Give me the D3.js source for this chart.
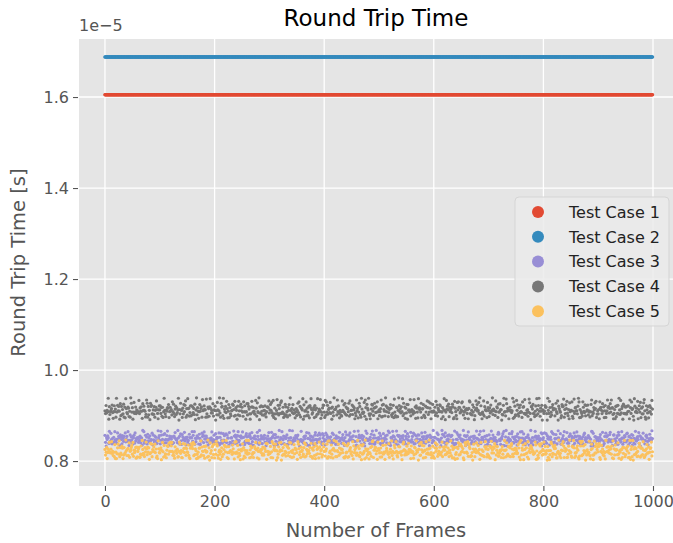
<!DOCTYPE html>
<html><head><meta charset="utf-8">
<script src="https://cdn.jsdelivr.net/npm/d3@7"></script>
<style>body{margin:0;background:#fff}svg{display:block}text{font-family:"DejaVu Sans",sans-serif}</style>
</head><body><svg id="c" width="673" height="543"></svg>
<script>
// Data (values in units of 1e-5 s)
const seriesNames = ["Test Case 1","Test Case 2","Test Case 3","Test Case 4","Test Case 5"];
const seriesColors = ["#E24A33","#348ABD","#988ED5","#777777","#FBC15E"];
const nFrames = 1000;
const constantLevels = [1.605, 1.688];            // Test Case 1, 2
const noiseCenter = [0.847, 0.910, 0.820];          // Test Case 3, 4, 5
const noiseSpread = [0.0105, 0.015, 0.0135];
// band positions for the coarse digit codes 0-9 (in units of spread)
const levelTable = [-1.645,-1.036,-0.674,-0.385,-0.126,0.126,0.385,0.674,1.036,1.645];
const fineStep = 0.065;
// per-frame readings: coarse digit + fine digit per frame
const tc3Digits = [
"7316485292 4851627394 3629475186 5187364925 6493158274","2758193646 5364827519 4915736284 6283549175 3846215967",
"5197463828 3628954176 6471328595 4539617284 2865493714","6342875159 4719263586 5286143977 3957482614 4163795248",
"3584726191 6295138474 4837561922 5614298376 2479356185","5926314787 3471865293 6158742396 4293587165 5736124849",
"4263957181 5847216394 3519648275 6782135946 2195376485","6874213595 4326758191 5691483726 3148962574 4957231868",
"3419586272 5763194826 4285617393 6527843159 2831475964","5648392171 3195846727 6472139585 4361758292 5813694247",
"4927165383 6584372919 3156498274 5293716845 2746851396","6185743292 4639281575 5827164396 3472915868 4318567249",
"3756219484 5241698373 6913475285 4687352191 2594836175","5362948717 3819574262 4175832696 6248391575 4936157824",
"2841695376 6573214898 5326478191 3794156285 5189632474","4618372595 3952864171 6487135923 5134798266 2763549185",
"6293481757 4176593828 3548216974 5821467393 4659132788","3475169286 5938247161 4261895735 6387524199 2814673565",
"5726834191 3164957823 6895241378 4513682974 5249716386","4389516722 6817435294 3574928165 5692314787 2136857496"];
const tc3Fine = [
"8205719364 1947382056 6031859247 3720596184 9158204736","0483916275 7264051839 2590847163 5817360492 4036291857",
"1769402538 9052718364 3847150926 6219485073 0572936148","7340618295 2895034716 8163527049 1456908237 5928041673",
"3087265914 6401938572 0719843265 8542170396 2675309418","9416052783 1358796024 4270685139 7093421865 5834167092",
"0628394751 8512047396 3975160248 2140678935 6781503429","4195807362 0847561923 7302918456 9563204187 1069735842",
"5740136928 3286904571 9018452637 0731568294 8425093176","2851769043 6079325418 1543087692 4908216375 7362490851",
"9037524186 4618093752 0295761834 3176849205 8504217369","1582406937 7930158264 5469203718 2847395061 0613872549",
"6294031857 0751496382 8132675940 5908123476 3427508196","3708952614 9264307185 2856019473 1075468329 7849136205",
"8461370592 5019842637 4703958261 6392015784 0185724936","0937615248 2586703419 7140382956 9473260815 4628591073",
"5214089763 8307251946 3695174802 0816437259 6052983417","7659241308 1470695832 9286503147 4321978065 2903846751",
"4086597132 6893014275 0531862794 8164520397 1795063428","2370148659 3528907164 6947231085 5209874631 9471630582"];
const tc4Digits = [
"5283649172 4658315736 2947564183 6354827195 3476152984","6148357264 5392746518 4765139826 3518674253 7246953148",
"4837261595 3164758246 5629384157 2745916384 6153847925","3956148273 6472815936 4138576294 5864293175 2697354816",
"5714386259 4287639154 6395148273 3548761926 4172953684","6329574138 2865413796 5743296185 4916385274 3582147669",
"4675832914 5136947258 3894561327 6241758396 5738264145","2584936175 6917245836 4361879524 5728416393 3649152787",
"5193847266 3846175295 6572938414 4219657383 7365481926","4826571339 5714863295 3458296176 6932145784 2587364915",
"6345918275 4298576136 5863147294 3176259845 4659382716","3718465924 6524937185 4197653826 5831274696 2946815375",
"5462938174 3785146259 6139574826 4573861295 5218496734","4895273165 6351798424 2746135958 5684927314 3917564286",
"6173845926 4529367185 5864132794 3298576146 4635918273","2957416385 5186749234 4625983176 6743158295 3894265714",
"5348672195 3971526846 6258349175 4513876926 2769435184","4682159376 5437982615 3196547284 6825314793 5374869125",
"3519764285 6248135976 4783956214 5162847395 2935618474","6427385196 4856219735 5391674826 3648952174 4715836295"];
const tc4Fine = [
"3916058247 5082741693 1847396250 9260413578 7035821964","6248503917 0739168245 8502734619 2416970853 4187265390",
"9052376184 4816293057 3260941875 7135802469 0694357218","1785930462 8307415926 6493208157 5029164738 3870642591",
"4507281639 2163908475 9718563024 0384729156 8256130947","7830164295 6597024318 0264835971 3918502647 1409753862",
"2194875360 9340517682 5821076439 8657243190 6073912548","5463029718 1728364905 4095127683 6201985374 9385406127",
"0631947825 7815230496 2736490158 4592018763 3148569270","8279513604 3054692187 7108346295 1845307926 5962784031",
"1058472396 6490135872 9352817064 0736249158 2817069345","6923810547 2186573409 4571298603 8319054726 7045632891",
"3475162908 9801346257 0183759426 5627483019 1538907264","9702638415 4563029178 6847105293 2081976534 3294517086",
"0816254973 7352981640 1529036784 9465201387 6073849152","5348096721 0697415832 8230675149 3914820576 4186352709",
"2561739084 5128067394 3476912058 7050349612 9841206375","8093426517 3745890261 5907238416 1263875940 0529741683",
"4630178952 8071653429 2058496731 6392017485 7368924150","7185902346 1964307582 9713264805 4807531269 2450196837"];
const tc5Digits = [
"6258137494 3794625181 5136849275 4861273596 2573914688","4925368171 5682147396 3417596285 6139482757 5846231973",
"3761594282 4215873969 6894352174 5372169845 2159748636","5483216797 6938475121 4267193856 3715846292 6194527838",
"2649873155 3156294787 5972418365 4628751939 5381642174","6817352496 4593168272 3248695717 5194736283 2765918445",
"4372591868 5861423795 6915372484 3487265919 5236184767","3198645275 6247918353 4563829171 5829137646 2974561388",
"5634781929 3518462796 6192548375 4756391282 3481926574","4291857363 5973624818 3846197252 6315482799 2658734196",
"6527319844 4186753291 5739261486 3962148575 4215897363","2843965717 6351287495 4617832958 5284619373 3796451282",
"5169478236 3724591867 6283947515 4938256171 2571693848","4756213989 5492876133 3168527494 6835149262 5327968145",
"3281694575 6917358422 4542783169 5169247836 2896415737","6435872919 3758126946 5291463877 4623598151 3184759626",
"2967345181 5146982373 6873215494 3415869727 4762138595","5318796242 4685213979 3927648153 6254931786 2139574868",
"4792158363 6231947585 5486372917 3857629414 4615283792","3674825191 5829163746 4153798262 6496215378 5381476924"];
const tc5Fine = [
"5720491836 8153062974 2469817350 0384756192 6931278405","1347920568 4602719385 7095346812 9261583047 3856104729",
"8091637254 2967485103 0438216579 5712904836 1640358927","3562148709 7318026495 6284973150 1857360294 9023617548",
"0416892537 5249371068 3871542906 8096213475 2758436109","6935071482 1087643259 9152738064 4328095716 7564129803",
"2781356940 6830915724 4306259178 0547681392 5193872460","9258703164 3415287096 8627041935 7160439528 0472658391",
"4109285637 9576140382 1953678240 3285917064 8647031952","7653410892 0892735614 5740392168 6931204857 1380569247",
"3024987516 4261358907 2187603459 9506842173 6715940328","8376152049 1935804276 6401927385 2049375618 5298016734",
"0592837461 7680249135 3825164097 4713098652 9164723508","6847019253 2354867910 9068431527 1589203746 4037562819",
"1235964870 8019372546 4791025638 6842517309 3506198274","5960742318 3476185029 0253879461 7198046253 2684930175",
"9418536027 6102493785 7534061892 0367825914 8241753690","2073689145 5847130692 1689247053 4925613087 7136084952",
"7801245963 0593876421 8316590742 3670482159 6429107583","4659310782 9238064517 5940713286 8053196427 0812639457"];
const xTicks = [0,200,400,600,800,1000];
const yTicks = [0.8,1.0,1.2,1.4,1.6];

function digitsOf(rows){ return rows.join("").replace(/\s/g,"").split("").map(Number); }
function decode(rows, fineRows, center, spread){
  const c = digitsOf(rows), f = digitsOf(fineRows);
  return c.map((d,i)=>({x:i, y:center + spread*(levelTable[d] + ((f[i] ?? 4.5) - 4.5)*fineStep)}));
}
const series = [
  d3.range(nFrames).map(i=>({x:i,y:constantLevels[0]})),
  d3.range(nFrames).map(i=>({x:i,y:constantLevels[1]})),
  decode(tc3Digits, tc3Fine, noiseCenter[0], noiseSpread[0]),
  decode(tc4Digits, tc4Fine, noiseCenter[1], noiseSpread[1]),
  decode(tc5Digits, tc5Fine, noiseCenter[2], noiseSpread[2])
];

const svg = d3.select("#c");
const L=79, R=673, T=39, B=486;
const x = d3.scaleLinear().domain([-47.4, 1036.5]).range([L,R]);
const y = d3.scaleLinear().domain([0.7452, 1.7275]).range([B,T]);

svg.append("rect").attr("x",L).attr("y",T).attr("width",R-L).attr("height",B-T).attr("fill","#E5E5E5");
// grid
svg.append("g").selectAll("line").data(xTicks).join("line")
  .attr("x1",d=>x(d)).attr("x2",d=>x(d)).attr("y1",T).attr("y2",B)
  .attr("stroke","#fff").attr("stroke-width",1.3);
svg.append("g").selectAll("line").data(yTicks).join("line")
  .attr("y1",d=>y(d)).attr("y2",d=>y(d)).attr("x1",L).attr("x2",R)
  .attr("stroke","#fff").attr("stroke-width",1.3);

// axes
const xAxis = svg.append("g").attr("transform",`translate(0,${B})`)
  .call(d3.axisBottom(x).tickValues(xTicks).tickSize(5).tickPadding(5).tickFormat(d3.format("d")));
const yAxis = svg.append("g").attr("transform",`translate(${L},0)`)
  .call(d3.axisLeft(y).tickValues(yTicks).tickSize(5).tickPadding(5).tickFormat(d3.format(".1f")));
[xAxis,yAxis].forEach(a=>{
  a.select(".domain").remove();
  a.selectAll(".tick line").attr("stroke","#555").attr("stroke-width",1.1);
  a.selectAll(".tick text").attr("fill","#555").style("font-size","16px").style("font-family","DejaVu Sans");
});
yAxis.selectAll(".tick line").attr("x1",-1).attr("x2",-6);

// points
svg.append("clipPath").attr("id","pc").append("rect").attr("x",L).attr("y",T).attr("width",R-L).attr("height",B-T);
const pg = svg.append("g").attr("clip-path","url(#pc)");
series.forEach((s,k)=>{
  pg.append("g").selectAll("circle").data(s).join("circle")
    .attr("cx",d=>x(d.x)).attr("cy",d=>y(d.y)).attr("r",k<2?1.8:1.6).attr("fill",seriesColors[k]);
});

// offset text
svg.append("text").attr("x",L).attr("y",31).attr("fill","#555").style("font-size","16px").text("1e\u22125");
// title
svg.append("text").attr("x",(L+R)/2).attr("y",26).attr("text-anchor","middle").attr("fill","#000").style("font-size","23px").text("Round Trip Time");
// axis labels
svg.append("text").attr("x",(L+R)/2).attr("y",537).attr("text-anchor","middle").attr("fill","#555").style("font-size","19.5px").text("Number of Frames");
svg.append("text").attr("transform",`translate(25,${(T+B)/2}) rotate(-90)`).attr("text-anchor","middle").attr("fill","#555").style("font-size","19.5px").text("Round Trip Time [s]");

// legend
const lg = svg.append("g");
lg.append("rect").attr("x",515).attr("y",197).attr("width",154).attr("height",129).attr("rx",4)
  .attr("fill","#EBEBEB").attr("fill-opacity",0.85).attr("stroke","#D5D5D5").attr("stroke-width",1);
seriesNames.forEach((n,k)=>{
  const yy = 212 + k*24.8;
  lg.append("circle").attr("cx",538).attr("cy",yy).attr("r",6).attr("fill",seriesColors[k]);
  lg.append("text").attr("x",569).attr("y",yy).attr("dy","0.36em").attr("fill","#222").style("font-size","16px").text(n);
});
</script></body></html>
